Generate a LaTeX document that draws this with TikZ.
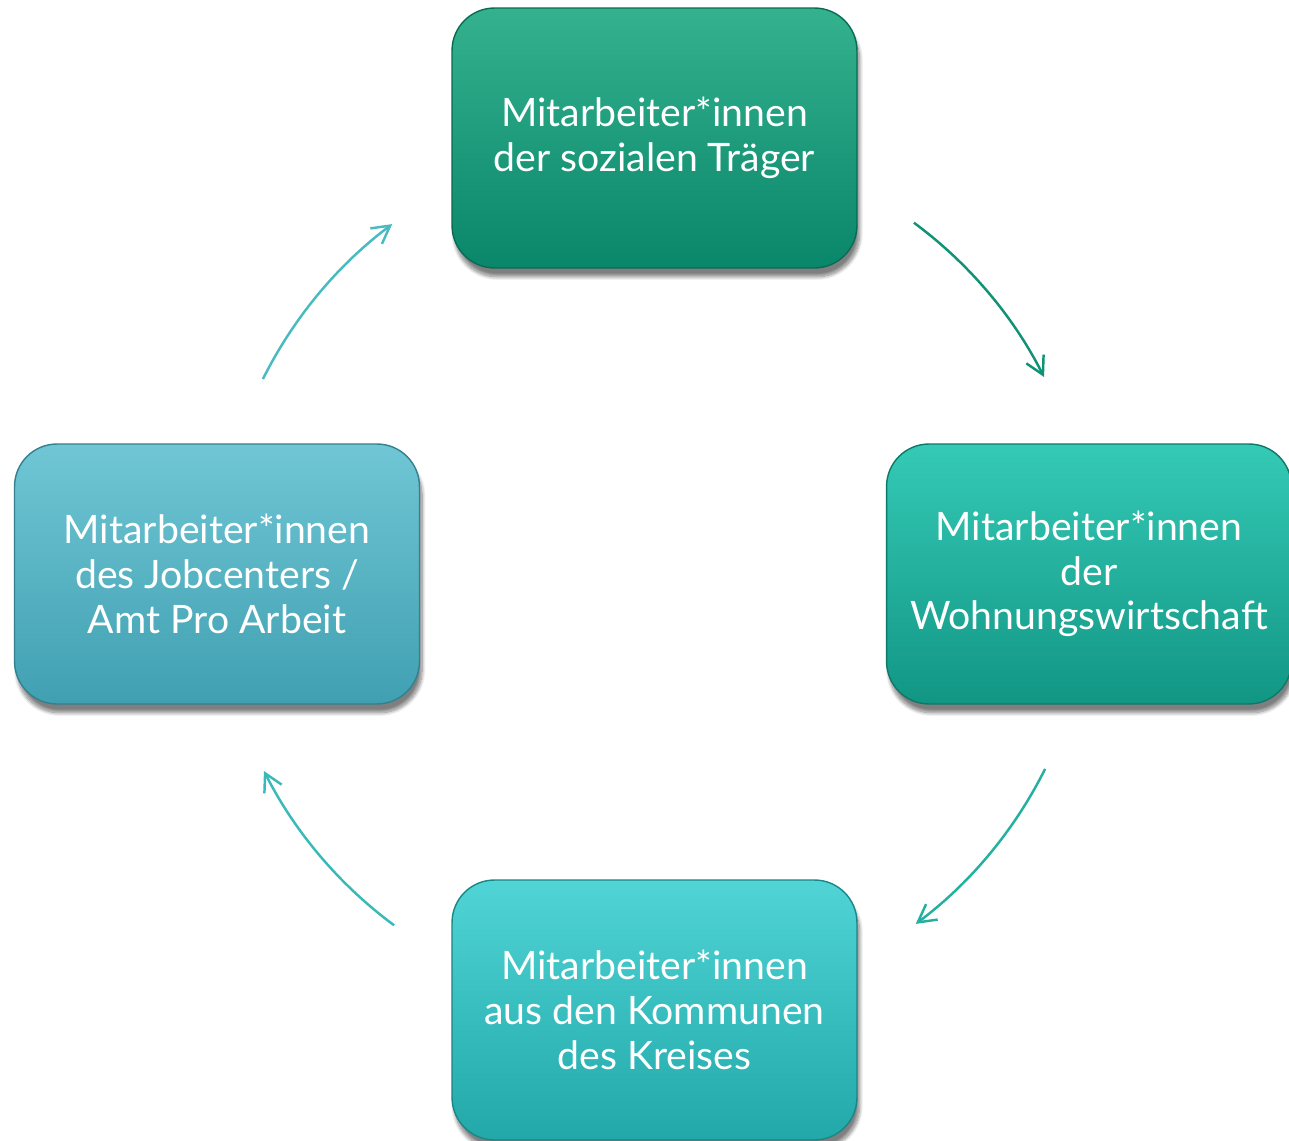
\documentclass[tikz,border=0pt]{standalone}
\usepackage{fontspec}
\setmainfont{Lato}
\usetikzlibrary{arrows.meta,shadows.blur,calc}

\definecolor{obenA}{RGB}{52,178,142}
\definecolor{obenB}{RGB}{10,134,106}
\definecolor{rechtsA}{RGB}{52,202,182}
\definecolor{rechtsB}{RGB}{18,150,132}
\definecolor{untenA}{RGB}{80,212,214}
\definecolor{untenB}{RGB}{34,168,168}
\definecolor{linksA}{RGB}{112,198,212}
\definecolor{linksB}{RGB}{64,160,178}

\begin{document}
\begin{tikzpicture}[x=0.02cm,y=0.02cm]
\tikzset{kasten/.style={rounded corners=0.85cm, minimum width=8.1cm, minimum height=5.2cm, text=white, align=center, line width=0.8pt, font=\fontsize{22.3}{25.5}\selectfont, blur shadow={shadow xshift=1.5pt, shadow yshift=-5pt, shadow opacity=50, shadow blur steps=10}}}
\tikzset{pfeil/.style={line width=1.4pt, -{Straight Barb[length=10pt,width=11pt]}}}
\useasboundingbox (0,0) rectangle (1289,-1141);
\node[kasten, top color=obenA, bottom color=obenB, draw=obenB!80!black] (K1) at (654.5,-138) {Mitarbeiter*innen\\der sozialen Träger};
\node[kasten, top color=rechtsA, bottom color=rechtsB, draw=rechtsB!80!black] (K2) at (1089,-574) {Mitarbeiter*innen\\der\\Wohnungswirtschaft};
\node[kasten, top color=untenA, bottom color=untenB, draw=untenB!80!black] (K3) at (654.5,-1010) {Mitarbeiter*innen\\aus den Kommunen\\des Kreises};
\node[kasten, top color=linksA, bottom color=linksB, draw=linksB!80!black] (K4) at (217,-574) {Mitarbeiter*innen\\des Jobcenters /\\Amt Pro Arbeit};
% Kreis der Pfeile
\coordinate (M) at (654,-574);
\coordinate (P1) at ($(M)+(53.5:437)$);
\coordinate (P2) at ($(M)+(-26.5:437)$);
\coordinate (P3) at ($(M)+(-126.5:437)$);
\coordinate (P4) at ($(M)+(153.5:437)$);
\draw[pfeil, color={rgb,255:red,16;green,146;blue,118}] (P1) arc[start angle=53.5, end angle=26.8, radius=437];
\draw[pfeil, color={rgb,255:red,36;green,176;blue,160}] (P2) arc[start angle=-26.5, end angle=-53.2, radius=437];
\draw[pfeil, color={rgb,255:red,56;green,186;blue,186}] (P3) arc[start angle=-126.5, end angle=-153.2, radius=437];
\draw[pfeil, color={rgb,255:red,72;green,186;blue,192}] (P4) arc[start angle=153.5, end angle=126.8, radius=437];
\end{tikzpicture}
\end{document}
